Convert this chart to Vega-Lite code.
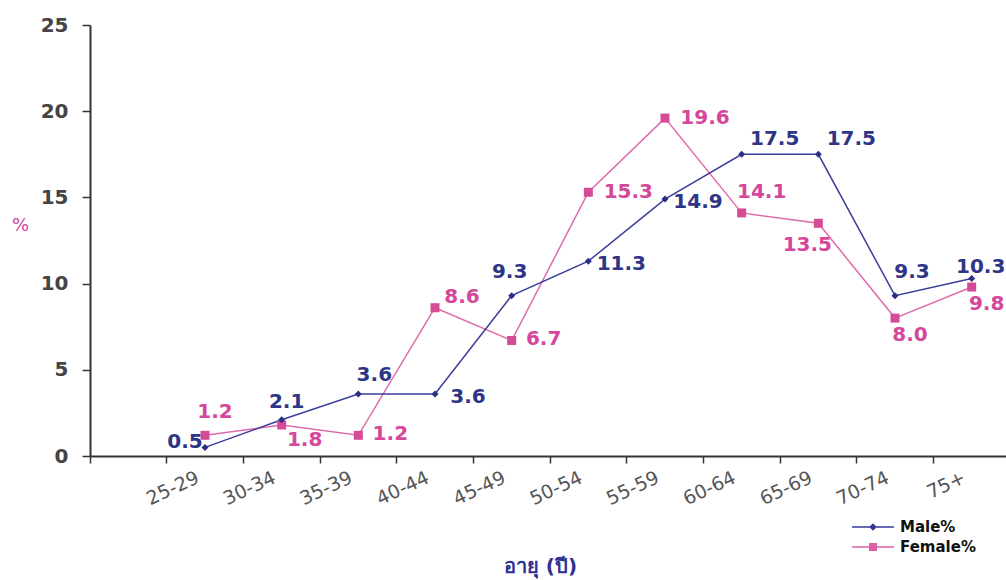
{
  "$schema": "https://vega.github.io/schema/vega-lite/v6.json",
  "width": 916,
  "height": 431,
  "autosize": {"type": "none"},
  "padding": {"left": 90, "top": 25, "right": 0, "bottom": 124},
  "background": "white",
  "config": {
    "view": {"stroke": null},
    "font": "DejaVu Sans",
    "legend": {
      "symbolSize": 361,
      "symbolStrokeWidth": 0,
      "labelFont": "DejaVu Sans",
      "labelFontSize": 15,
      "labelFontWeight": "bold",
      "labelColor": "#111111",
      "labelOffset": 17.5,
      "rowPadding": 2,
      "padding": 0
    }
  },
  "data": {
    "values": [
      {"age": "25-29", "series": "Male%", "value": 0.5},
      {"age": "30-34", "series": "Male%", "value": 2.1},
      {"age": "35-39", "series": "Male%", "value": 3.6},
      {"age": "40-44", "series": "Male%", "value": 3.6},
      {"age": "45-49", "series": "Male%", "value": 9.3},
      {"age": "50-54", "series": "Male%", "value": 11.3},
      {"age": "55-59", "series": "Male%", "value": 14.9},
      {"age": "60-64", "series": "Male%", "value": 17.5},
      {"age": "65-69", "series": "Male%", "value": 17.5},
      {"age": "70-74", "series": "Male%", "value": 9.3},
      {"age": "75+", "series": "Male%", "value": 10.3},
      {"age": "25-29", "series": "Female%", "value": 1.2},
      {"age": "30-34", "series": "Female%", "value": 1.8},
      {"age": "35-39", "series": "Female%", "value": 1.2},
      {"age": "40-44", "series": "Female%", "value": 8.6},
      {"age": "45-49", "series": "Female%", "value": 6.7},
      {"age": "50-54", "series": "Female%", "value": 15.3},
      {"age": "55-59", "series": "Female%", "value": 19.6},
      {"age": "60-64", "series": "Female%", "value": 14.1},
      {"age": "65-69", "series": "Female%", "value": 13.5},
      {"age": "70-74", "series": "Female%", "value": 8.0},
      {"age": "75+", "series": "Female%", "value": 9.8}
    ]
  },
  "encoding": {
    "x": {
      "field": "age",
      "type": "ordinal",
      "scale": {
        "type": "band",
        "domain": ["", "25-29", "30-34", "35-39", "40-44", "45-49", "50-54", "55-59", "60-64", "65-69", "70-74", "75+"],
        "range": [0, 920],
        "paddingInner": 0,
        "paddingOuter": 0
      },
      "axis": {
        "title": "อายุ (ปี)",
        "titleFont": "DejaVu Sans",
        "titleFontSize": 20,
        "titleFontWeight": "bold",
        "titleColor": "#2e3192",
        "titleX": 450,
        "titleY": 110,
        "titleAlign": "center",
        "titleBaseline": "middle",
        "bandPosition": 0,
        "labelAngle": -25,
        "labelAlign": "right",
        "labelBaseline": "top",
        "labelOffset": -11,
        "labelPadding": 5,
        "labelFontSize": 19,
        "labelColor": "#555555",
        "labelOverlap": false,
        "tickSize": 7,
        "tickColor": "#333333",
        "tickWidth": 1.5,
        "domainColor": "#333333",
        "domainWidth": 2,
        "grid": false
      }
    },
    "y": {
      "field": "value",
      "type": "quantitative",
      "scale": {"domain": [0, 25], "nice": false},
      "axis": {
        "title": "%",
        "titleAngle": 0,
        "titleX": -70,
        "titleY": 200,
        "titleAlign": "center",
        "titleBaseline": "middle",
        "titleColor": "#c9449a",
        "titleFontSize": 18,
        "titleFontWeight": "normal",
        "values": [0, 5, 10, 15, 20, 25],
        "labelFontSize": 20,
        "labelFontWeight": "bold",
        "labelColor": "#444444",
        "labelPadding": 14,
        "tickSize": 8,
        "tickColor": "#333333",
        "tickWidth": 1.5,
        "domainColor": "#333333",
        "domainWidth": 2,
        "grid": false
      }
    }
  },
  "layer": [
    {
      "transform": [{"filter": "datum.series === 'Female%'"}],
      "mark": {"type": "line", "color": "#e06aab", "strokeWidth": 1.5},
      "encoding": {}
    },
    {
      "transform": [{"filter": "datum.series === 'Male%'"}],
      "mark": {"type": "line", "color": "#3a3e9a", "strokeWidth": 1.5},
      "encoding": {}
    },
    {
      "transform": [{"filter": "datum.series === 'Female%'"}],
      "mark": {"type": "point", "shape": "square", "filled": true, "size": 81, "color": "#d64b96", "opacity": 1},
      "encoding": {}
    },
    {
      "transform": [{"filter": "datum.series === 'Male%'"}],
      "mark": {"type": "point", "shape": "diamond", "filled": true, "size": 49, "color": "#2b2f86", "opacity": 1},
      "encoding": {}
    },
    {
      "transform": [{"filter": "false"}],
      "mark": {"type": "point", "filled": true, "opacity": 1, "size": 361},
      "encoding": {
        "color": {
          "field": "series",
          "type": "nominal",
          "scale": {"domain": ["Male%", "Female%"], "range": ["#34389a", "#dc5fa4"]},
          "legend": {"title": null, "orient": "none", "legendX": 773.5, "legendY": 492.5}
        },
        "shape": {
          "field": "series",
          "type": "nominal",
          "scale": {
            "domain": ["Male%", "Female%"],
            "range": [
              "M-2.2,-0.08H2.2V0.08H-2.2ZM0,-0.4L0.4,0L0,0.4L-0.4,0Z",
              "M-2.2,-0.08H2.2V0.08H-2.2ZM-0.42,-0.42H0.42V0.42H-0.42Z"
            ]
          },
          "legend": {"title": null, "orient": "none", "legendX": 773.5, "legendY": 492.5}
        }
      }
    },
    {
      "transform": [{"filter": "datum.series === 'Male%' && datum.age === '25-29'"}],
      "mark": {"type": "text", "dx": -20, "dy": -5, "align": "center", "baseline": "middle", "font": "DejaVu Sans", "fontSize": 20, "fontWeight": "bold", "color": "#2e3586"},
      "encoding": {"text": {"field": "value", "type": "quantitative", "format": ".1f"}}
    },
    {
      "transform": [{"filter": "datum.series === 'Male%' && datum.age === '30-34'"}],
      "mark": {"type": "text", "dx": 5, "dy": -18, "align": "center", "baseline": "middle", "font": "DejaVu Sans", "fontSize": 20, "fontWeight": "bold", "color": "#2e3586"},
      "encoding": {"text": {"field": "value", "type": "quantitative", "format": ".1f"}}
    },
    {
      "transform": [{"filter": "datum.series === 'Male%' && datum.age === '35-39'"}],
      "mark": {"type": "text", "dx": 16, "dy": -19, "align": "center", "baseline": "middle", "font": "DejaVu Sans", "fontSize": 20, "fontWeight": "bold", "color": "#2e3586"},
      "encoding": {"text": {"field": "value", "type": "quantitative", "format": ".1f"}}
    },
    {
      "transform": [{"filter": "datum.series === 'Male%' && indexof(['40-44','50-54','55-59'], datum.age) >= 0"}],
      "mark": {"type": "text", "dx": 33, "dy": 3, "align": "center", "baseline": "middle", "font": "DejaVu Sans", "fontSize": 20, "fontWeight": "bold", "color": "#2e3586"},
      "encoding": {"text": {"field": "value", "type": "quantitative", "format": ".1f"}}
    },
    {
      "transform": [{"filter": "datum.series === 'Male%' && datum.age === '45-49'"}],
      "mark": {"type": "text", "dx": -2, "dy": -24, "align": "center", "baseline": "middle", "font": "DejaVu Sans", "fontSize": 20, "fontWeight": "bold", "color": "#2e3586"},
      "encoding": {"text": {"field": "value", "type": "quantitative", "format": ".1f"}}
    },
    {
      "transform": [{"filter": "datum.series === 'Male%' && indexof(['60-64','65-69'], datum.age) >= 0"}],
      "mark": {"type": "text", "dx": 33, "dy": -15, "align": "center", "baseline": "middle", "font": "DejaVu Sans", "fontSize": 20, "fontWeight": "bold", "color": "#2e3586"},
      "encoding": {"text": {"field": "value", "type": "quantitative", "format": ".1f"}}
    },
    {
      "transform": [{"filter": "datum.series === 'Male%' && datum.age === '70-74'"}],
      "mark": {"type": "text", "dx": 17, "dy": -24, "align": "center", "baseline": "middle", "font": "DejaVu Sans", "fontSize": 20, "fontWeight": "bold", "color": "#2e3586"},
      "encoding": {"text": {"field": "value", "type": "quantitative", "format": ".1f"}}
    },
    {
      "transform": [{"filter": "datum.series === 'Male%' && datum.age === '75+'"}],
      "mark": {"type": "text", "dx": 9, "dy": -11, "align": "center", "baseline": "middle", "font": "DejaVu Sans", "fontSize": 20, "fontWeight": "bold", "color": "#2e3586"},
      "encoding": {"text": {"field": "value", "type": "quantitative", "format": ".1f"}}
    },
    {
      "transform": [{"filter": "datum.series === 'Female%' && datum.age === '25-29'"}],
      "mark": {"type": "text", "dx": 10, "dy": -23, "align": "center", "baseline": "middle", "font": "DejaVu Sans", "fontSize": 20, "fontWeight": "bold", "color": "#d4479a"},
      "encoding": {"text": {"field": "value", "type": "quantitative", "format": ".1f"}}
    },
    {
      "transform": [{"filter": "datum.series === 'Female%' && datum.age === '30-34'"}],
      "mark": {"type": "text", "dx": 23, "dy": 15, "align": "center", "baseline": "middle", "font": "DejaVu Sans", "fontSize": 20, "fontWeight": "bold", "color": "#d4479a"},
      "encoding": {"text": {"field": "value", "type": "quantitative", "format": ".1f"}}
    },
    {
      "transform": [{"filter": "datum.series === 'Female%' && indexof(['35-39','45-49'], datum.age) >= 0"}],
      "mark": {"type": "text", "dx": 32, "dy": -1, "align": "center", "baseline": "middle", "font": "DejaVu Sans", "fontSize": 20, "fontWeight": "bold", "color": "#d4479a"},
      "encoding": {"text": {"field": "value", "type": "quantitative", "format": ".1f"}}
    },
    {
      "transform": [{"filter": "datum.series === 'Female%' && datum.age === '40-44'"}],
      "mark": {"type": "text", "dx": 27, "dy": -11, "align": "center", "baseline": "middle", "font": "DejaVu Sans", "fontSize": 20, "fontWeight": "bold", "color": "#d4479a"},
      "encoding": {"text": {"field": "value", "type": "quantitative", "format": ".1f"}}
    },
    {
      "transform": [{"filter": "datum.series === 'Female%' && indexof(['50-54','55-59'], datum.age) >= 0"}],
      "mark": {"type": "text", "dx": 40, "dy": 0, "align": "center", "baseline": "middle", "font": "DejaVu Sans", "fontSize": 20, "fontWeight": "bold", "color": "#d4479a"},
      "encoding": {"text": {"field": "value", "type": "quantitative", "format": ".1f"}}
    },
    {
      "transform": [{"filter": "datum.series === 'Female%' && datum.age === '60-64'"}],
      "mark": {"type": "text", "dx": 20, "dy": -21, "align": "center", "baseline": "middle", "font": "DejaVu Sans", "fontSize": 20, "fontWeight": "bold", "color": "#d4479a"},
      "encoding": {"text": {"field": "value", "type": "quantitative", "format": ".1f"}}
    },
    {
      "transform": [{"filter": "datum.series === 'Female%' && datum.age === '65-69'"}],
      "mark": {"type": "text", "dx": -11, "dy": 22, "align": "center", "baseline": "middle", "font": "DejaVu Sans", "fontSize": 20, "fontWeight": "bold", "color": "#d4479a"},
      "encoding": {"text": {"field": "value", "type": "quantitative", "format": ".1f"}}
    },
    {
      "transform": [{"filter": "datum.series === 'Female%' && indexof(['70-74','75+'], datum.age) >= 0"}],
      "mark": {"type": "text", "dx": 15, "dy": 17, "align": "center", "baseline": "middle", "font": "DejaVu Sans", "fontSize": 20, "fontWeight": "bold", "color": "#d4479a"},
      "encoding": {"text": {"field": "value", "type": "quantitative", "format": ".1f"}}
    }
  ]
}
